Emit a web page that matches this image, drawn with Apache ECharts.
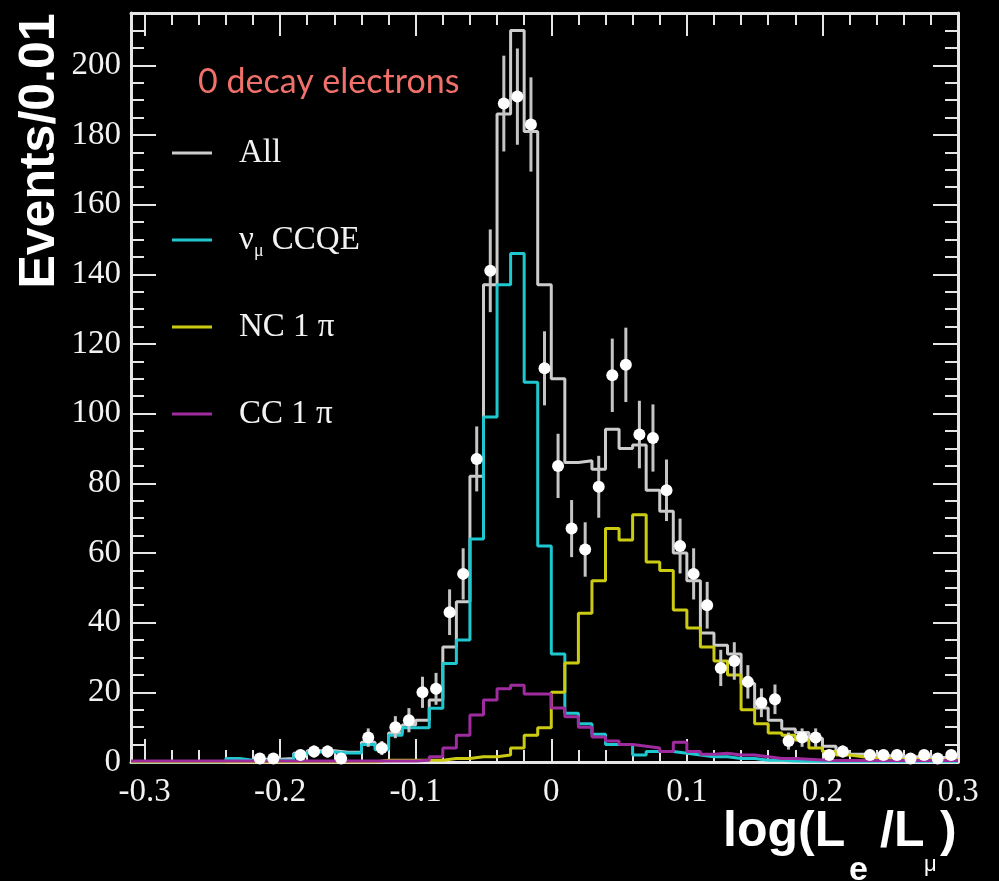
<!DOCTYPE html>
<html>
<head>
<meta charset="utf-8">
<script src="https://cdn.jsdelivr.net/npm/echarts@6/dist/echarts.min.js"></script>
<style>
  html, body { margin: 0; padding: 0; background: #000; }
  #chart { width: 999px; height: 881px; }
</style>
</head>
<body>
<div id="chart"></div>
<script>
// histogram bins: 0.01 wide, first bin starts at -0.31
const binStart = -0.31;
const binWidth = 0.01;

// MC histograms, one value per bin (61 bins, -0.31 .. 0.30)
const allMC = [0,
  0, 0, 0, 0, 0, 0, 0, 0.5, 0.8, 0.8,
  1, 2.5, 3.2, 3.2, 2.8, 2.8, 5.7, 4.5, 8.3, 10.6,
  12, 17.8, 33, 46, 82, 137, 186, 210, 181, 137,
  110, 86, 86.5, 84, 95.5, 90, 91, 78, 72, 60,
  52, 37, 33.5, 31, 22.5, 15.5, 12, 9.5, 8.5, 6.8,
  4.5, 3, 2.2, 2, 1.8, 1.6, 1.5, 1.4, 1.3, 1.2];
const ccqe = [0,
  0, 0, 0, 0, 0, 0, 1, 0.5, 0.5, 0.5,
  0.6, 2.2, 2.9, 2.9, 2.6, 2.6, 5, 3.5, 7.7, 9.8,
  9.8, 15.4, 28.3, 35, 64, 99, 137, 146, 109, 62,
  31, 14, 11, 8, 5, 5, 2, 3, 3, 2.5,
  2, 1.5, 1.5, 1, 1, 0.5, 0.5, 0.3, 0.2, 0.2,
  0.2, 0.2, 0.2, 0.2, 0.2, 0.2, 0.2, 0.2, 0.2, 0.2];
const nc1pi = [0,
  0, 0, 0, 0, 0, 0, 0, 0, 0, 0,
  0, 0, 0, 0, 0, 0, 0, 0.5, 0.5, 0.5,
  0.5, 0.5, 1, 1, 1.5, 1.5, 2, 4, 7.7, 9.8,
  20, 28.4, 42.7, 52, 67, 63.7, 71, 57.4, 55, 43.6,
  38.5, 33, 29, 25, 15, 11, 8.3, 7.7, 6.3, 4,
  3, 2, 1.5, 1.2, 1, 0.8, 0.8, 0.7, 0.6, 0.6];
const cc1pi = [0.3,
  0.3, 0.3, 0.3, 0.3, 0.3, 0.3, 0.3, 0.3, 0.3, 0.3,
  0.3, 0.3, 0.3, 0.3, 0.3, 0.3, 0.3, 0.3, 0.3, 0.3,
  0.5, 1.5, 4, 7.7, 13.5, 17.8, 21, 22, 19.5, 19.5,
  15.5, 13, 10, 7.2, 6, 5, 4.5, 4, 3, 5.7,
  3, 2.2, 2.5, 2, 2, 1.5, 1, 1, 0.8, 0.6,
  0.4, 0.4, 0.4, 0.4, 0.4, 0.4, 0.4, 0.4, 0.4, 0.4];

// data counts per bin (null = no point drawn)
const dataCounts = [null,
  null, null, null, null, null, null, null, null, 1, 1,
  null, 2, 3, 3, 1, null, 7, 4, 10, 12,
  20, 21, 43, 54, 87, 141, 189, 191, 183, 113,
  85, 67, 61, 79, 111, 114, 94, 93, 78, 62,
  54, 45, 27, 29, 23, 17, 18, 6, 7, 7,
  2, 3, null, 2, 2, 2, 1, 2, 1, 2];

const xLabels = [-0.3, -0.2, -0.1, 0, 0.1, 0.2, 0.3];
const xMinor = [-0.3, -0.28, -0.26, -0.24, -0.22, -0.2, -0.18, -0.16, -0.14, -0.12, -0.1,
  -0.08, -0.06, -0.04, -0.02, 0, 0.02, 0.04, 0.06, 0.08, 0.1, 0.12, 0.14, 0.16, 0.18,
  0.2, 0.22, 0.24, 0.26, 0.28, 0.3];
const yLabels = [0, 20, 40, 60, 80, 100, 120, 140, 160, 180, 200];
const yMinor = [0, 5, 10, 15, 20, 25, 30, 35, 40, 45, 50, 55, 60, 65, 70, 75, 80, 85, 90, 95,
  100, 105, 110, 115, 120, 125, 130, 135, 140, 145, 150, 155, 160, 165, 170, 175, 180,
  185, 190, 195, 200, 205, 210];

function edge(i) {
  return Math.round((binStart + i * binWidth) * 1000) / 1000;
}
// turn bin contents into step-line points at the bin edges
function steps(vals) {
  let pts = vals.map((v, i) => [edge(i), v]);
  pts.push([edge(vals.length), vals[vals.length - 1]]);
  return pts;
}
let points = [];
dataCounts.forEach((c, i) => {
  if (c !== null) points.push([Math.round((binStart + (i + 0.5) * binWidth) * 10000) / 10000, c]);
});

const tickColor = '#e6e6e6';
const serif = 'Liberation Serif';

function histSeries(name, vals, color, width) {
  return {
    name: name,
    type: 'line',
    step: 'end',
    data: steps(vals),
    showSymbol: false,
    symbol: 'none',
    itemStyle: { color: color },
    lineStyle: { color: color, width: width },
    silent: true
  };
}

function xAxisDef(pos, ticks, len, labels, showLine) {
  return {
    type: 'value', gridIndex: 0, position: pos, min: -0.31, max: 0.3,
    axisLine: { show: showLine, onZero: false, lineStyle: { color: tickColor, width: 3 } },
    axisTick: { show: true, inside: true, length: len, customValues: ticks, lineStyle: { color: tickColor, width: 2 } },
    axisLabel: labels ? {
      show: true, customValues: labels, margin: 14, color: '#f2f2f2',
      fontFamily: serif, fontSize: 33,
      formatter: v => String(Math.round(v * 10) / 10)
    } : { show: false },
    splitLine: { show: false }
  };
}
function yAxisDef(pos, ticks, len, labels, showLine) {
  return {
    type: 'value', gridIndex: 0, position: pos, min: 0, max: 215,
    axisLine: { show: showLine, onZero: false, lineStyle: { color: tickColor, width: 3 } },
    axisTick: { show: true, inside: true, length: len, customValues: ticks, lineStyle: { color: tickColor, width: 2 } },
    axisLabel: labels ? {
      show: true, customValues: labels, margin: 10, color: '#f2f2f2',
      fontFamily: serif, fontSize: 33
    } : { show: false },
    splitLine: { show: false }
  };
}

const chart = echarts.init(document.getElementById('chart'));
const option = {
  backgroundColor: '#000',
  animation: false,
  grid: { left: 131, right: 41, top: 13, bottom: 119, containLabel: false },
  xAxis: [
    xAxisDef('bottom', xLabels, 23, xLabels, true),
    xAxisDef('top', xLabels, 23, null, true),
    xAxisDef('bottom', xMinor, 12, null, false),
    xAxisDef('top', xMinor, 12, null, false)
  ],
  yAxis: [
    yAxisDef('left', yLabels, 25, yLabels, true),
    yAxisDef('right', yLabels, 25, null, true),
    yAxisDef('left', yMinor, 13, null, false),
    yAxisDef('right', yMinor, 13, null, false)
  ],
  legend: {
    data: [
      { name: 'All', icon: 'rect' },
      { name: 'numu CCQE', icon: 'rect' },
      { name: 'NC 1 π', icon: 'rect' },
      { name: 'CC 1 π', icon: 'rect' }
    ],
    orient: 'vertical',
    left: 172,
    top: 133,
    padding: 0,
    itemWidth: 40,
    itemHeight: 3,
    itemGap: 47,
    selectedMode: false,
    formatter: function (name) {
      if (name === 'numu CCQE') return '{g|ν}{s|μ}{g| CCQE}';
      return name;
    },
    textStyle: {
      color: '#f2f2f2', fontFamily: serif, fontSize: 33, lineHeight: 40,
      padding: [0, 0, 0, 22],
      rich: {
        g: { fontFamily: serif, fontSize: 33, color: '#f2f2f2', lineHeight: 40, verticalAlign: 'middle' },
        s: { fontFamily: serif, fontSize: 18, color: '#f2f2f2', lineHeight: 40, verticalAlign: 'bottom' }
      }
    }
  },
  graphic: [
    {
      type: 'text', x: 198, y: 82,
      style: { text: '0 decay electrons', fill: '#f0706a', fontFamily: 'Lato', fontSize: 34, textVerticalAlign: 'middle' }
    },
    {
      type: 'text', x: 40, y: 151, rotation: Math.PI / 2,
      style: { text: 'Events/0.01', fill: '#ffffff', fontFamily: 'Liberation Sans', fontWeight: 'bold', fontSize: 50, textAlign: 'center', textVerticalAlign: 'middle' }
    },
    {
      type: 'text', x: 723, y: 857,
      style: { text: 'log(L', fill: '#ffffff', fontFamily: 'Liberation Sans', fontWeight: 'bold', fontSize: 50, textVerticalAlign: 'bottom' }
    },
    {
      type: 'text', x: 849, y: 888,
      style: { text: 'e', fill: '#ffffff', fontFamily: 'Liberation Sans', fontWeight: 'bold', fontSize: 34, textVerticalAlign: 'bottom' }
    },
    {
      type: 'text', x: 880, y: 857,
      style: { text: '/L', fill: '#ffffff', fontFamily: 'Liberation Sans', fontWeight: 'bold', fontSize: 50, textVerticalAlign: 'bottom' }
    },
    {
      type: 'text', x: 924, y: 876,
      style: { text: 'μ', fill: '#ffffff', fontFamily: 'Liberation Sans', fontSize: 22, textVerticalAlign: 'bottom' }
    },
    {
      type: 'text', x: 940, y: 857,
      style: { text: ')', fill: '#ffffff', fontFamily: 'Liberation Sans', fontWeight: 'bold', fontSize: 50, textVerticalAlign: 'bottom' }
    }
  ],
  series: [
    histSeries('All', allMC, '#cccccc', 3),
    histSeries('numu CCQE', ccqe, '#1fc8d0', 3),
    histSeries('NC 1 π', nc1pi, '#cccb14', 3),
    histSeries('CC 1 π', cc1pi, '#9e2c9e', 3),
    {
      name: 'Data',
      type: 'custom',
      data: points,
      silent: true,
      z: 5,
      renderItem: function (params, api) {
        const x = api.value(0);
        const y = api.value(1);
        const err = Math.sqrt(y);
        const c = api.coord([x, y]);
        const top = api.coord([x, y + err]);
        const bot = api.coord([x, Math.max(y - err, 0)]);
        return {
          type: 'group',
          children: [
            { type: 'line', shape: { x1: top[0], y1: top[1], x2: bot[0], y2: bot[1] }, style: { stroke: '#c4c4c4', lineWidth: 3 } },
            { type: 'circle', shape: { cx: c[0], cy: c[1], r: 6 }, style: { fill: '#ffffff' } }
          ]
        };
      }
    }
  ]
};
chart.setOption(option);
</script>
</body>
</html>
